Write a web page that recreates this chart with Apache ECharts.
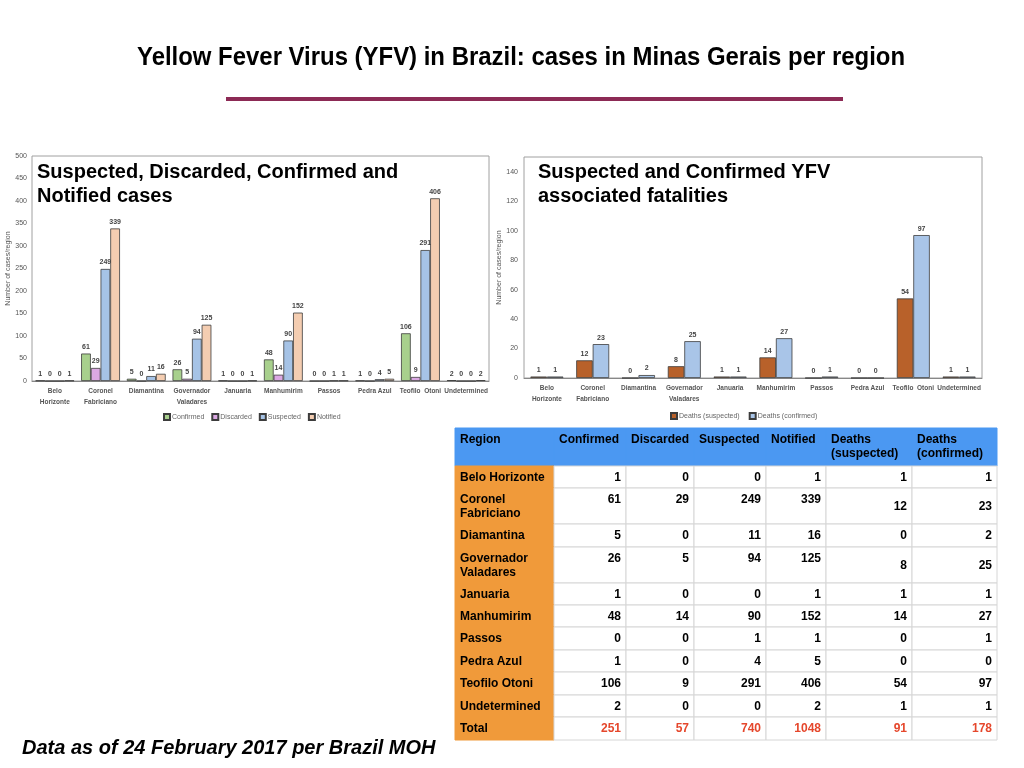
<!DOCTYPE html>
<html>
<head>
<meta charset="utf-8">
<script src="https://cdn.jsdelivr.net/npm/echarts@6/dist/echarts.min.js"></script>
<style>
 html, body { margin: 0; padding: 0; background: #fff; }
 #main { width: 1024px; height: 768px; }
</style>
</head>
<body>
<div id="main"></div>
<script>
// data
var categories = ['Belo\nHorizonte', 'Coronel\nFabriciano', 'Diamantina', 'Governador\nValadares', 'Januaria',
  'Manhumirim', 'Passos', 'Pedra Azul', 'Teofilo  Otoni', 'Undetermined'];
var tableRegions = ['Belo Horizonte', 'Coronel\nFabriciano', 'Diamantina', 'Governador\nValadares', 'Januaria',
  'Manhumirim', 'Passos', 'Pedra Azul', 'Teofilo Otoni', 'Undetermined'];
var confirmed = [1, 61, 5, 26, 1, 48, 0, 1, 106, 2];
var discarded = [0, 29, 0, 5, 0, 14, 0, 0, 9, 0];
var suspected = [0, 249, 11, 94, 0, 90, 1, 4, 291, 0];
var notified = [1, 339, 16, 125, 1, 152, 1, 5, 406, 2];
var deathsSuspected = [1, 12, 0, 8, 1, 14, 0, 0, 54, 1];
var deathsConfirmed = [1, 23, 2, 25, 1, 27, 1, 0, 97, 1];
var tableHeaders = ['Region', 'Confirmed', 'Discarded', 'Suspected', 'Notified', 'Deaths\n(suspected)', 'Deaths\n(confirmed)'];
var mainTitle = 'Yellow Fever Virus (YFV) in Brazil: cases in Minas Gerais per region';

var FONT = '"Liberation Sans", Arial, Helvetica, sans-serif';

var chart = echarts.init(document.getElementById('main'));

function barSeries(name, data, color, axisIdx) {
  return {
    name: name,
    type: 'bar',
    xAxisIndex: axisIdx,
    yAxisIndex: axisIdx,
    data: data,
    barGap: '0%',
    barCategoryGap: axisIdx === 0 ? '15%' : '28%',
    itemStyle: { color: color, borderColor: '#3c3c3c', borderWidth: 0.8 },
    label: {
      show: true, position: 'top', distance: 3,
      fontSize: 7, fontWeight: 'bold', color: '#444', fontFamily: FONT
    },
    emphasis: { disabled: true },
    animation: false
  };
}

// the slide title is set in a condensed face; squeeze a regular bold to the same width
var titleFont = 'bold 25px ' + FONT;
var ctx = document.createElement('canvas').getContext('2d');
ctx.font = titleFont;
var titleScale = 768 / ctx.measureText(mainTitle).width;

// table built from the arrays
var colEdges = [455, 554, 626, 694, 766, 826, 912, 997];
var rowHeights = [38, 22, 36, 23, 36, 22, 22, 23, 22, 23, 22, 23];
var tableTop = 428;
var columns = [confirmed, discarded, suspected, notified, deathsSuspected, deathsConfirmed];
var totals = columns.map(function (c) { return c.reduce(function (a, b) { return a + b; }, 0); });

var graphics = [];
graphics.push({
  type: 'text', x: 521, y: 58, scaleX: titleScale,
  style: {
    text: mainTitle, fill: '#000', font: titleFont,
    textAlign: 'center', align: 'center', textVerticalAlign: 'middle', verticalAlign: 'middle'
  }
});
graphics.push({
  type: 'rect', shape: { x: 226, y: 97, width: 617, height: 4 },
  style: { fill: '#8c2a55' }
});
graphics.push({
  type: 'text', x: 22, y: 748,
  style: {
    text: 'Data as of 24 February 2017 per Brazil MOH', fill: '#000',
    font: 'italic bold 20px ' + FONT, textVerticalAlign: 'middle', verticalAlign: 'middle'
  }
});

var y = tableTop;
for (var r = 0; r < rowHeights.length; r++) {
  var h = rowHeights[r];
  for (var c = 0; c < colEdges.length - 1; c++) {
    var x0 = colEdges[c], w = colEdges[c + 1] - x0;
    var fill = '#fff';
    if (r === 0) fill = '#4b98f2';
    else if (c === 0) fill = '#f09a3a';
    graphics.push({
      type: 'rect', shape: { x: x0, y: y, width: w, height: h },
      style: { fill: fill, stroke: r === 0 || c === 0 ? fill : '#d6d6d6', lineWidth: 1 }
    });
    var txt, align = 'left', tx = x0 + 5, ty = y + 5, va = 'top', color = '#000';
    if (r === 0) {
      txt = tableHeaders[c];
    } else if (r === rowHeights.length - 1) {
      txt = c === 0 ? 'Total' : String(totals[c - 1]);
      if (c > 0) color = '#e5472c';
    } else if (c === 0) {
      txt = tableRegions[r - 1];
    } else {
      txt = String(columns[c - 1][r - 1]);
      if (c >= 5 && h > 30) { va = 'middle'; ty = y + h / 2 + 1; }
    }
    if (r > 0 && c > 0) { align = 'right'; tx = colEdges[c + 1] - 5; }
    graphics.push({
      type: 'text', x: tx, y: ty,
      style: {
        text: txt, fill: color, font: 'bold 12px ' + FONT, lineHeight: 14,
        textAlign: align, align: align, textVerticalAlign: va, verticalAlign: va
      },
      z: 10
    });
  }
  y += h;
}

var axisLabelStyle = { fontSize: 7, color: '#555', fontFamily: FONT };
var legendText = { fontSize: 7, color: '#666', fontFamily: FONT, padding: [0, 0, 0, -3] };

var option = {
  backgroundColor: '#fff',
  animation: false,
  title: [
    {
      text: 'Suspected, Discarded, Confirmed and\nNotified cases',
      left: 32, top: 155,
      textStyle: { fontSize: 20, fontWeight: 'bold', color: '#000', lineHeight: 24, fontFamily: FONT }
    },
    {
      text: 'Suspected and Confirmed YFV\nassociated fatalities',
      left: 533, top: 155,
      textStyle: { fontSize: 20, fontWeight: 'bold', color: '#000', lineHeight: 24, fontFamily: FONT }
    }
  ],
  legend: [
    {
      data: ['Confirmed', 'Discarded', 'Suspected', 'Notified'],
      left: 158, top: 408, icon: 'rect', itemWidth: 6, itemHeight: 6, itemGap: 7,
      textStyle: legendText
    },
    {
      data: ['Deaths (suspected)', 'Deaths (confirmed)'],
      left: 665, top: 407, icon: 'rect', itemWidth: 6, itemHeight: 6, itemGap: 9,
      textStyle: legendText
    }
  ],
  grid: [
    { left: 32, right: 535, top: 156, bottom: 387, show: true, borderColor: '#a0a0a0', borderWidth: 1, containLabel: false },
    { left: 524, right: 42, top: 157, bottom: 390, show: true, borderColor: '#a0a0a0', borderWidth: 1, containLabel: false }
  ],
  xAxis: [0, 1].map(function (i) {
    return {
      type: 'category', gridIndex: i, data: categories,
      axisLine: { lineStyle: { color: '#888' } },
      axisTick: { show: false },
      axisLabel: Object.assign({ interval: 0, fontWeight: 'bold', lineHeight: 11, margin: 5 },
        axisLabelStyle, { fontSize: 6.5 })
    };
  }),
  yAxis: [
    {
      type: 'value', gridIndex: 0, min: 0, max: 500, interval: 50,
      name: 'Number of cases/region', nameLocation: 'middle', nameGap: 20,
      nameTextStyle: axisLabelStyle,
      axisLine: { show: false }, axisTick: { show: false }, splitLine: { show: false },
      axisLabel: Object.assign({ margin: 5 }, axisLabelStyle)
    },
    {
      type: 'value', gridIndex: 1, min: 0, max: 150, interval: 20,
      name: 'Number of cases/region', nameLocation: 'middle', nameGap: 19,
      nameTextStyle: axisLabelStyle,
      axisLine: { show: false }, axisTick: { show: false }, splitLine: { show: false },
      axisLabel: Object.assign({ margin: 6, showMaxLabel: false }, axisLabelStyle)
    }
  ],
  series: [
    barSeries('Confirmed', confirmed, '#a8d08d', 0),
    barSeries('Discarded', discarded, '#dba8e3', 0),
    barSeries('Suspected', suspected, '#a6c3e6', 0),
    barSeries('Notified', notified, '#f4cdb1', 0),
    barSeries('Deaths (suspected)', deathsSuspected, '#b8612a', 1),
    barSeries('Deaths (confirmed)', deathsConfirmed, '#a9c5e8', 1)
  ],
  graphic: graphics
};

chart.setOption(option);
</script>
</body>
</html>
